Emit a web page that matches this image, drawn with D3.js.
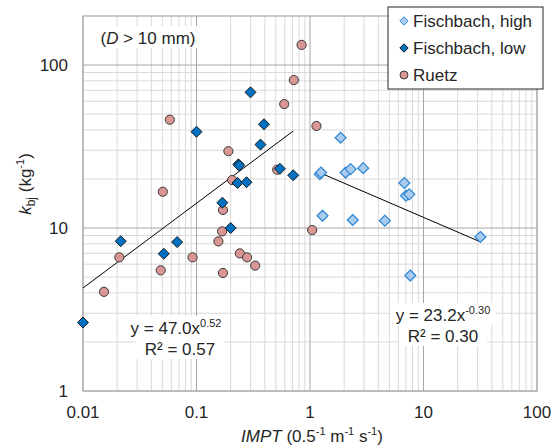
<!DOCTYPE html>
<html>
<head>
<meta charset="utf-8">
<script src="https://cdn.jsdelivr.net/npm/d3@7"></script>
<style>
	body { margin: 0; background: #fff; }
	text { font-family: 'Liberation Sans', Arial, sans-serif; fill: #262626; }
</style>
</head>
<body>
<div id="chart"></div>
<script>
const width = 551
const height = 447
const margin = { top: 16, right: 14, bottom: 56, left: 83 }

// Fischbach, high
const highX = [1.22, 1.25, 1.29, 1.86, 2.06, 2.28, 2.38, 2.94, 4.57, 6.78, 7.01, 7.5, 7.65, 31.7]
const highY = [21.4, 21.9, 11.9, 35.8, 21.9, 23.0, 11.2, 23.3, 11.1, 18.9, 15.8, 16.1, 5.11, 8.81]

// Fischbach, low
const lowX = [0.01, 0.0215, 0.0515, 0.0675, 0.1, 0.169, 0.2, 0.23, 0.234, 0.238, 0.276, 0.299, 0.366, 0.393, 0.543, 0.711]
const lowY = [2.63, 8.3, 6.95, 8.2, 39, 14.3, 10.0, 18.9, 24.6, 24.2, 19.1, 68, 32.5, 43.3, 23.1, 21.1]

// Ruetz
const ruetzX = [0.0153, 0.0209, 0.0484, 0.0505, 0.0582, 0.0923, 0.156, 0.168, 0.171, 0.171, 0.191, 0.206, 0.241, 0.279, 0.329, 0.514, 0.593, 0.721, 0.843, 1.045, 1.14]
const ruetzY = [4.06, 6.61, 5.5, 16.7, 46.2, 6.61, 8.28, 9.53, 12.9, 5.3, 29.6, 19.7, 6.99, 6.61, 5.88, 22.8, 57.6, 80.9, 133, 9.72, 42.3]

// power trend lines y = a * x^b
const trendA = [47.0, 23.2]
const trendB = [0.52, -0.3]
const trendFrom = [0.01, 1.25]
const trendTo = [0.711, 31.7]

const xTicks = [0.01, 0.1, 1, 10, 100]
const yTicks = [1, 10, 100]

const svg = d3.select('#chart').append('svg').attr('width', width).attr('height', height)

const x = d3.scaleLog().domain([0.01, 100]).range([margin.left, width - margin.right])
const y = d3.scaleLog().domain([1, 200]).range([height - margin.bottom, margin.top])

// minor / major gridlines
const xMinor = []
for (let d = 0.01; d < 100; d *= 10) for (let m = 2; m <= 9; m++) xMinor.push(d * m)
const yMinor = []
for (let d = 1; d < 200; d *= 10) for (let m = 2; m <= 9; m++) if (d * m <= 200) yMinor.push(d * m)

const grid = svg.append('g')
grid.selectAll('.xm').data(xMinor).enter().append('line')
	.attr('x1', (d) => x(d)).attr('x2', (d) => x(d))
	.attr('y1', y(1)).attr('y2', y(200))
	.attr('stroke', '#d9d9d9').attr('stroke-width', 1)
grid.selectAll('.ym').data(yMinor).enter().append('line')
	.attr('y1', (d) => y(d)).attr('y2', (d) => y(d))
	.attr('x1', x(0.01)).attr('x2', x(100))
	.attr('stroke', '#d9d9d9').attr('stroke-width', 1)
grid.selectAll('.xM').data(xTicks).enter().append('line')
	.attr('x1', (d) => x(d)).attr('x2', (d) => x(d))
	.attr('y1', y(1)).attr('y2', y(200))
	.attr('stroke', '#a6a6a6').attr('stroke-width', 1)
grid.selectAll('.yM').data(yTicks).enter().append('line')
	.attr('y1', (d) => y(d)).attr('y2', (d) => y(d))
	.attr('x1', x(0.01)).attr('x2', x(100))
	.attr('stroke', '#a6a6a6').attr('stroke-width', 1)

svg.append('rect')
	.attr('x', x(0.01)).attr('y', y(200))
	.attr('width', x(100) - x(0.01)).attr('height', y(1) - y(200))
	.attr('fill', 'none').attr('stroke', '#a6a6a6')

// tick labels
svg.selectAll('.xl').data(xTicks).enter().append('text')
	.attr('x', (d) => x(d)).attr('y', y(1) + 27)
	.attr('text-anchor', 'middle').attr('font-size', 17)
	.text((d) => d)
svg.selectAll('.yl').data(yTicks).enter().append('text')
	.attr('x', x(0.01) - 15).attr('y', (d) => y(d) + 6)
	.attr('text-anchor', 'end').attr('font-size', 17)
	.text((d) => d)

// axis titles
const xt = svg.append('text').attr('x', 312).attr('y', 442).attr('text-anchor', 'middle').attr('font-size', 17)
xt.append('tspan').attr('font-style', 'italic').text('IMPT')
xt.append('tspan').text(' (0.5')
xt.append('tspan').attr('font-size', 11).attr('dy', -7).text('-1')
xt.append('tspan').attr('dy', 7).text(' m')
xt.append('tspan').attr('font-size', 11).attr('dy', -7).text('-1')
xt.append('tspan').attr('dy', 7).text(' s')
xt.append('tspan').attr('font-size', 11).attr('dy', -7).text('-1')
xt.append('tspan').attr('dy', 7).text(')')

const yt = svg.append('text').attr('transform', 'translate(31,184) rotate(-90)').attr('text-anchor', 'middle').attr('font-size', 17)
yt.append('tspan').attr('font-style', 'italic').text('k')
yt.append('tspan').attr('font-size', 12).attr('dy', 4).text('bj')
yt.append('tspan').attr('dy', -4).text(' (kg')
yt.append('tspan').attr('font-size', 11).attr('dy', -7).text('-1')
yt.append('tspan').attr('dy', 7).text(')')

// trend lines
const trends = trendA.map((a, i) => ({ a, b: trendB[i], from: trendFrom[i], to: trendTo[i] }))
svg.selectAll('.trend').data(trends).enter().append('line')
	.attr('x1', (d) => x(d.from)).attr('y1', (d) => y(d.a * Math.pow(d.from, d.b)))
	.attr('x2', (d) => x(d.to)).attr('y2', (d) => y(d.a * Math.pow(d.to, d.b)))
	.attr('stroke', '#000').attr('stroke-width', 1)

// markers
const diamond = (s) => `M0,${-s}L${s},0L0,${s}L${-s},0Z`
const zip = (xs, ys) => xs.map((v, i) => [v, ys[i]])

svg.append('g').selectAll('circle').data(zip(ruetzX, ruetzY)).enter().append('circle')
	.attr('cx', (d) => x(d[0])).attr('cy', (d) => y(d[1])).attr('r', 4.6)
	.attr('fill', '#d99694').attr('stroke', '#3a3a3a').attr('stroke-width', 1)

svg.append('g').selectAll('path').data(zip(lowX, lowY)).enter().append('path')
	.attr('transform', (d) => `translate(${x(d[0])},${y(d[1])})`)
	.attr('d', diamond(5.5))
	.attr('fill', '#0070c0').attr('stroke', '#1a1a1a').attr('stroke-width', 1)

svg.append('g').selectAll('path').data(zip(highX, highY)).enter().append('path')
	.attr('transform', (d) => `translate(${x(d[0])},${y(d[1])})`)
	.attr('d', diamond(5.5))
	.attr('fill', '#a9cbed').attr('stroke', '#2e86d4').attr('stroke-width', 1.2)

// labels with white backgrounds
function label(cx, cy, w, parts) {
	svg.append('rect').attr('x', cx - w / 2).attr('y', cy - 12).attr('width', w).attr('height', 22).attr('fill', '#fff')
	const t = svg.append('text').attr('x', cx).attr('y', cy + 6).attr('text-anchor', 'middle').attr('font-size', 17)
	parts.forEach((p) => {
		const s = t.append('tspan').text(p.t)
		if (p.sup) s.attr('font-size', 11).attr('dy', -7)
		if (p.i) s.attr('font-style', 'italic')
	})
}

label(148, 38, 104, [{ t: '(' }, { t: 'D', i: true }, { t: ' > 10 mm)' }])
label(176, 328, 106, [{ t: 'y = 47.0x' }, { t: '0.52', sup: true }])
label(180, 349, 88, [{ t: 'R² = 0.57' }])
label(443, 315, 106, [{ t: 'y = 23.2x' }, { t: '-0.30', sup: true }])
label(443, 336, 88, [{ t: 'R² = 0.30' }])

// legend
const legendNames = ['Fischbach, high', 'Fischbach, low', 'Ruetz']
const lg = svg.append('g').attr('transform', 'translate(388,7)')
lg.append('rect').attr('width', 155).attr('height', 82).attr('fill', '#fff').attr('stroke', '#262626')
legendNames.forEach((name, i) => {
	const row = lg.append('g').attr('transform', `translate(16,${14 + i * 27})`)
	if (i === 2) {
		row.append('circle').attr('r', 4).attr('fill', '#d99694').attr('stroke', '#3a3a3a')
	} else {
		row.append('path').attr('d', diamond(4.2))
			.attr('fill', i === 0 ? '#a9cbed' : '#0070c0')
			.attr('stroke', i === 0 ? '#2e86d4' : '#1a1a1a')
	}
	row.append('text').attr('x', 9).attr('y', 6).attr('font-size', 17).text(name)
})
</script>
</body>
</html>
